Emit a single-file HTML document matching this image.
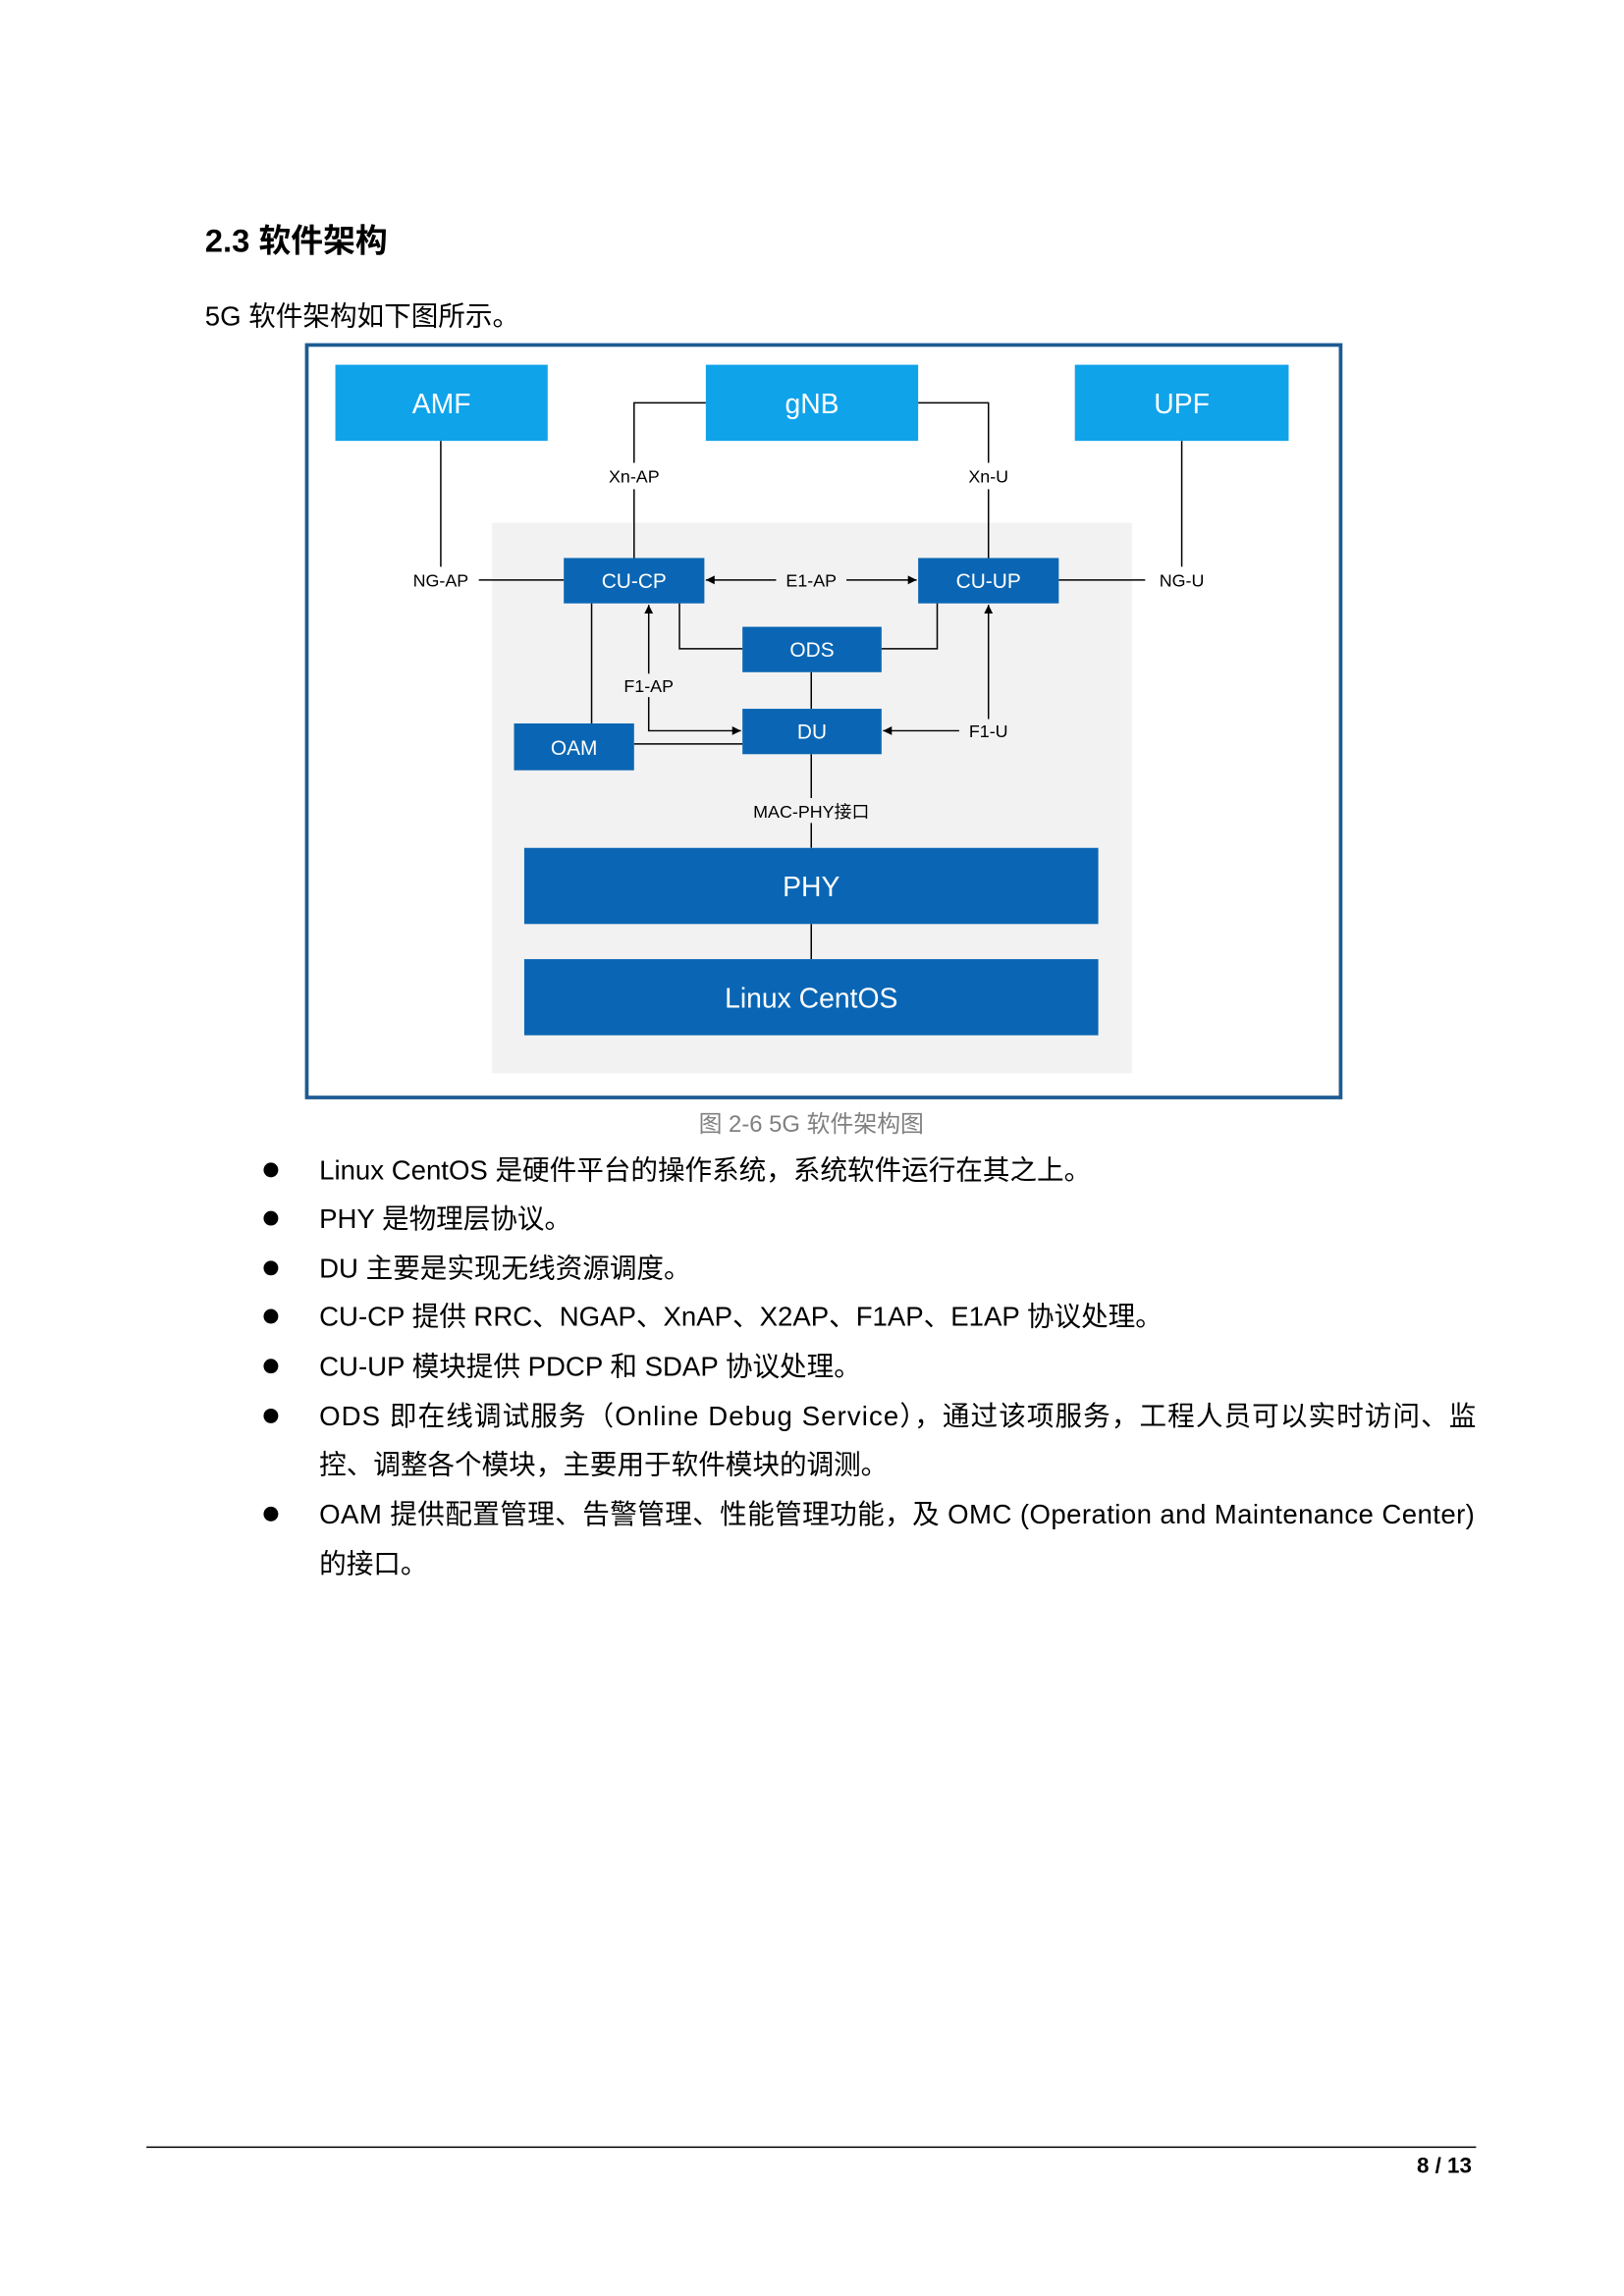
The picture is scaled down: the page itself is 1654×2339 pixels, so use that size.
<!DOCTYPE html>
<html><head><meta charset="utf-8"><style>
html,body{margin:0;padding:0;background:#fff;}
svg{display:block;}
text{font-family:"Liberation Sans","Noto Sans CJK SC",sans-serif;}
</style></head><body>
<svg width="1654" height="2339" viewBox="0 0 1109 1568" xmlns="http://www.w3.org/2000/svg">
<defs>
<marker id="ah" viewBox="0 0 10 10" refX="10" refY="5" markerWidth="6" markerHeight="6" orient="auto-start-reverse"><path d="M0,0L10,5L0,10z" fill="#000"/></marker>
</defs>
<text x="140" y="172" font-size="22" font-weight="bold" fill="#000">2.3  软件架构</text>
<text x="140" y="222" font-size="18.5" fill="#000">5G 软件架构如下图所示。</text>

<rect x="209.5" y="235.5" width="706" height="514" fill="#fff" stroke="#1d5b92" stroke-width="2.5"/>
<rect x="336" y="357" width="437" height="376" fill="#f2f2f2"/>

<g fill="none" stroke="#000" stroke-width="1">
<path d="M301,301V387"/>
<path d="M327,396H385"/>
<path d="M482,275H433V316M433,334V381"/>
<path d="M627,275H675V316M675,334V381"/>
<path d="M807,301V387"/>
<path d="M723,396H782"/>
<path d="M530,396H482" marker-end="url(#ah)"/>
<path d="M578,396H626" marker-end="url(#ah)"/>
<path d="M464,412V443H507"/>
<path d="M640,412V443H602"/>
<path d="M554,459V484"/>
<path d="M443,460V413" marker-end="url(#ah)"/>
<path d="M443,476V499H506" marker-end="url(#ah)"/>
<path d="M404,412V494"/>
<path d="M433,508H507"/>
<path d="M655,499H603" marker-end="url(#ah)"/>
<path d="M675,491V413" marker-end="url(#ah)"/>
<path d="M554,515V545M554,562V579"/>
<path d="M554,631V655"/>
</g>

<g fill="#0fa3ea">
<rect x="229" y="249" width="145" height="52"/>
<rect x="482" y="249" width="145" height="52"/>
<rect x="734" y="249" width="146" height="52"/>
</g>
<g fill="#0a66b4">
<rect x="385" y="381" width="96" height="31"/>
<rect x="627" y="381" width="96" height="31"/>
<rect x="507" y="428" width="95" height="31"/>
<rect x="507" y="484" width="95" height="31"/>
<rect x="351" y="494" width="82" height="32"/>
<rect x="358" y="579" width="392" height="52"/>
<rect x="358" y="655" width="392" height="52"/>
</g>
<g fill="#fff" text-anchor="middle" font-size="19">
<text x="301.5" y="282">AMF</text>
<text x="554.5" y="282">gNB</text>
<text x="807" y="282">UPF</text>
<text x="554" y="612">PHY</text>
<text x="554" y="688">Linux CentOS</text>
</g>
<g fill="#fff" text-anchor="middle" font-size="14">
<text x="433" y="401.5">CU-CP</text>
<text x="675" y="401.5">CU-UP</text>
<text x="554.5" y="448.5">ODS</text>
<text x="554.5" y="504.5">DU</text>
<text x="392" y="515.5">OAM</text>
</g>
<g fill="#000" text-anchor="middle" font-size="12">
<text x="433" y="329.5">Xn-AP</text>
<text x="675" y="329.5">Xn-U</text>
<text x="301" y="400.5">NG-AP</text>
<text x="807" y="400.5">NG-U</text>
<text x="554" y="400.5">E1-AP</text>
<text x="443" y="472.5">F1-AP</text>
<text x="675" y="503.5">F1-U</text>
<text x="554" y="558.5">MAC-PHY接口</text>
</g>
<text x="554" y="773" text-anchor="middle" font-size="16" fill="#808080">图 2-6 5G 软件架构图</text>

<g fill="#000">
<circle cx="185" cy="799" r="5"/>
<circle cx="185" cy="832" r="5"/>
<circle cx="185" cy="866" r="5"/>
<circle cx="185" cy="899" r="5"/>
<circle cx="185" cy="933" r="5"/>
<circle cx="185" cy="967" r="5"/>
<circle cx="185" cy="1034" r="5"/>
</g>
<g fill="#000" font-size="18.5">
<text x="218" y="805.5">Linux CentOS 是硬件平台的操作系统，系统软件运行在其之上。</text>
<text x="218" y="838.5">PHY 是物理层协议。</text>
<text x="218" y="872.5">DU 主要是实现无线资源调度。</text>
<text x="218" y="905.5">CU-CP 提供 RRC、NGAP、XnAP、X2AP、F1AP、E1AP 协议处理。</text>
<text x="218" y="939.5">CU-UP 模块提供 PDCP 和 SDAP 协议处理。</text>
<text x="218" y="973.5" textLength="790" lengthAdjust="spacing">ODS 即在线调试服务（Online Debug Service），通过该项服务，工程人员可以实时访问、监</text>
<text x="218" y="1006.5">控、调整各个模块，主要用于软件模块的调测。</text>
<text x="218" y="1040.5" textLength="789" lengthAdjust="spacing">OAM 提供配置管理、告警管理、性能管理功能，及 OMC (Operation and Maintenance Center)</text>
<text x="218" y="1074.5">的接口。</text>
</g>

<line x1="100" y1="1466.5" x2="1008" y2="1466.5" stroke="#000" stroke-width="1"/>
<text x="1005" y="1484" text-anchor="end" font-size="15" font-weight="bold" fill="#000">8 / 13</text>
</svg>
</body></html>
